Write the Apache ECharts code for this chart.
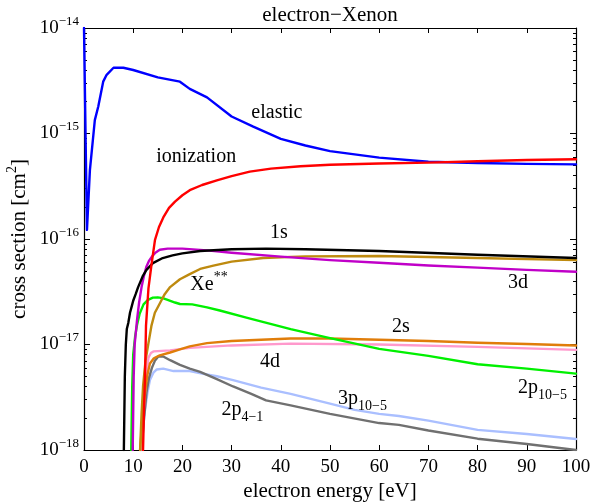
<!DOCTYPE html>
<html>
<head>
<meta charset="utf-8">
<script src="https://cdn.jsdelivr.net/npm/echarts@6/dist/echarts.min.js"></script>
<style>html,body{margin:0;padding:0;background:#fff}#c{width:592px;height:504px}</style>
</head>
<body>
<div id="c"></div>
<script>
// ---- data (x: electron energy [eV], y: cross section [cm^2]) ----
const xTicks = [0, 10, 20, 30, 40, 50, 60, 70, 80, 90, 100];
const yDecades = [1e-18, 1e-17, 1e-16, 1e-15, 1e-14];

const elastic = [[0,1.0e-14],[0.6,1.22e-16],[1.2,4.5e-16],[2.2,1.34e-15],[2.9,1.8e-15],[3.9,3.1e-15],[4.6,3.6e-15],[6,4.2e-15],[8,4.2e-15],[10,4.0e-15],[15,3.4e-15],[19.5,3.1e-15],[21.5,2.65e-15],[25,2.2e-15],[30,1.45e-15],[34.4,1.16e-15],[40,8.9e-16],[45,7.7e-16],[50,6.8e-16],[60,5.9e-16],[70,5.4e-16],[80,5.25e-16],[90,5.15e-16],[100,5.1e-16]];
const ionization = [[12.0,1e-18],[12.2,2.5e-18],[12.4,5e-18],[12.6,1.5e-17],[13.1,3.4e-17],[13.76,5.9e-17],[14.43,9.8e-17],[15.24,1.3e-16],[16.12,1.6e-16],[17.28,1.97e-16],[18.5,2.26e-16],[20,2.6e-16],[21.5,2.9e-16],[24,3.25e-16],[27,3.6e-16],[30,3.95e-16],[33.7,4.35e-16],[38,4.65e-16],[44,4.9e-16],[50,5.05e-16],[60,5.2e-16],[70,5.3e-16],[80,5.45e-16],[90,5.6e-16],[100,5.7e-16]];
const s1 = [[8.1,1e-18],[8.3,5e-18],[8.5,1.0e-17],[8.7,1.4e-17],[9.0,1.6e-17],[9.35,2.0e-17],[9.7,2.3e-17],[10,2.6e-17],[10.5,3.0e-17],[11,3.5e-17],[12,4.5e-17],[12.7,5.1e-17],[14,5.9e-17],[16,6.6e-17],[18,7.0e-17],[20,7.3e-17],[23.6,7.7e-17],[30,8.0e-17],[37,8.1e-17],[45,8.0e-17],[60,7.7e-17],[80,7.1e-17],[100,6.6e-17]];
const d3 = [[9.9,1e-18],[10.1,5e-18],[10.3,1e-17],[10.8,1.75e-17],[11.2,2.5e-17],[11.7,3.5e-17],[12.2,4.5e-17],[12.7,5.5e-17],[13.2,6.2e-17],[13.8,6.8e-17],[14.5,7.4e-17],[15.4,7.9e-17],[17,8.1e-17],[20,8.1e-17],[25,7.8e-17],[30,7.4e-17],[40,6.8e-17],[50,6.3e-17],[60,5.95e-17],[70,5.6e-17],[80,5.35e-17],[90,5.1e-17],[100,4.9e-17]];
const xeStar = [[11.4,1e-18],[11.7,2.2e-18],[12,4e-18],[12.5,7e-18],[13.1,1.03e-17],[13.7,1.5e-17],[14.4,2.0e-17],[15.4,2.45e-17],[16.4,3.0e-17],[17.5,3.5e-17],[19.5,4.15e-17],[21.5,4.65e-17],[23.6,5.2e-17],[26.3,5.6e-17],[30,6.1e-17],[36.4,6.6e-17],[45,6.85e-17],[60,6.9e-17],[80,6.6e-17],[100,6.3e-17]];
const p2_10_5 = [[9.6,1e-18],[9.8,4e-18],[10.0,8e-18],[10.4,1.2e-17],[10.8,1.55e-17],[11.3,1.95e-17],[12.1,2.4e-17],[13,2.65e-17],[14,2.78e-17],[15,2.8e-17],[16,2.75e-17],[17,2.65e-17],[18.5,2.5e-17],[19.5,2.42e-17],[22,2.4e-17],[25,2.25e-17],[27.6,2.1e-17],[33,1.8e-17],[42,1.4e-17],[50,1.15e-17],[60,9.1e-18],[70,7.8e-18],[80,6.5e-18],[90,5.9e-18],[100,5.3e-18]];
const s2 = [[11.4,1e-18],[11.9,2e-18],[12.4,3.5e-18],[12.9,5.2e-18],[13.4,6.6e-18],[14.2,7.4e-18],[15.4,7.9e-18],[17.5,8.4e-18],[19.5,9.0e-18],[21.5,9.6e-18],[25,1.03e-17],[30,1.08e-17],[42,1.14e-17],[50,1.14e-17],[60,1.11e-17],[70,1.08e-17],[80,1.04e-17],[90,1.01e-17],[100,9.8e-18]];
const d4 = [[11.5,1e-18],[12.0,2.0e-18],[12.4,3.5e-18],[12.8,5.8e-18],[13.1,7.5e-18],[13.6,8.3e-18],[14.1,8.6e-18],[17.5,8.8e-18],[21.5,9.3e-18],[30,9.8e-18],[42,1.02e-17],[60,1.0e-17],[80,9.5e-18],[100,8.9e-18]];
const p2_4_1 = [[11.7,1e-18],[12.2,2.0e-18],[12.7,3.5e-18],[13.2,4.8e-18],[13.8,6e-18],[14.4,7.0e-18],[15.1,7.7e-18],[16.1,7.7e-18],[17.5,7.1e-18],[19.5,6.4e-18],[21.5,5.9e-18],[23.6,5.5e-18],[27,4.7e-18],[30.3,4.0e-18],[34,3.4e-18],[37,2.95e-18],[42,2.65e-18],[50,2.2e-18],[60,1.8e-18],[64,1.73e-18],[70,1.53e-18],[80,1.28e-18],[90,1.14e-18],[100,1.0e-18]];
const p3_10_5 = [[11.6,1e-18],[12.0,1.6e-18],[12.4,2.4e-18],[12.9,3.5e-18],[13.4,4.6e-18],[14.1,5.4e-18],[14.8,5.8e-18],[16.1,5.9e-18],[18.2,5.6e-18],[21.5,5.6e-18],[24,5.3e-18],[27,5.0e-18],[30.3,4.6e-18],[36,3.9e-18],[42,3.4e-18],[50,2.75e-18],[55,2.4e-18],[60,2.2e-18],[64,2.1e-18],[70,1.9e-18],[80,1.55e-18],[90,1.42e-18],[100,1.27e-18]];

// minor tick values for log axis (2..9 x 10^k)
const minorTicks = [];
for (let k = -18; k <= -15; k++) for (let m = 2; m <= 9; m++) minorTicks.push(m * Math.pow(10, k));

const FONT = 'Liberation Serif';
const chart = echarts.init(document.getElementById('c'), null, {renderer: 'canvas'});

const seriesDefs = [
  {name: 'elastic', data: elastic, color: '#0000ff'},
  {name: '3p10-5', data: p3_10_5, color: '#aabfff'},
  {name: '2p4-1', data: p2_4_1, color: '#707070'},
  {name: '4d', data: d4, color: '#ff99cc'},
  {name: '2s', data: s2, color: '#e07d0a'},
  {name: '2p10-5', data: p2_10_5, color: '#00f000'},
  {name: 'Xe**', data: xeStar, color: '#be8a0f'},
  {name: '3d', data: d3, color: '#c000c8'},
  {name: '1s', data: s1, color: '#000000'},
  {name: 'ionization', data: ionization, color: '#ff0000'}
];

const supRich = {
  b: {fontFamily: FONT, fontSize: 19, color: '#000', lineHeight: 22},
  s: {fontFamily: FONT, fontSize: 13, color: '#000', lineHeight: 13, padding: [0, 0, 13, 0]}
};
const nameRich = {
  b: {fontFamily: FONT, fontSize: 21, color: '#000', lineHeight: 24},
  s: {fontFamily: FONT, fontSize: 14, color: '#000', lineHeight: 14, padding: [0, 0, 14, 0]}
};

const hideAll = {axisLine: {show: false}, axisLabel: {show: false}, splitLine: {show: false}};

const option = {
  animation: false,
  backgroundColor: '#fff',
  grid: {left: 84, right: 16, top: 28, bottom: 54, containLabel: false, outerBoundsMode: 'none'},
  xAxis: [
    {
      type: 'value', min: 0, max: 100, interval: 10, position: 'bottom',
      name: 'electron energy [eV]', nameLocation: 'middle', nameGap: 31, nameMoveOverlap: false,
      nameTextStyle: {fontFamily: FONT, fontSize: 21, color: '#000'},
      axisLine: {show: true, lineStyle: {color: '#000', width: 1.2}},
      axisTick: {show: true, inside: true, length: 5, lineStyle: {color: '#000'}},
      axisLabel: {fontFamily: FONT, fontSize: 19, color: '#000', margin: 8, customValues: xTicks},
      splitLine: {show: false}
    },
    {
      type: 'value', min: 0, max: 100, interval: 10, position: 'top',
      axisLine: {show: true, lineStyle: {color: '#000', width: 1.2}},
      axisTick: {show: true, inside: true, length: 5, lineStyle: {color: '#000'}},
      axisLabel: {show: false}, splitLine: {show: false}
    }
  ],
  yAxis: [
    {
      type: 'log', logBase: 10, min: 1e-18, max: 1e-14, position: 'left',
      name: '{b|cross section [cm}{s|2}{b|]}', nameLocation: 'middle', nameGap: 53, nameMoveOverlap: false,
      nameTextStyle: {rich: nameRich},
      axisLine: {show: true, lineStyle: {color: '#000', width: 1.2}},
      axisTick: {show: true, inside: true, length: 6, lineStyle: {color: '#000'}, customValues: yDecades},
      axisLabel: {
        margin: 5, customValues: yDecades,
        formatter: function (v) {
          const e = Math.round(Math.log10(v));
          return '{b|10}{s|\u2212' + (-e) + '}';
        },
        rich: supRich
      },
      splitLine: {show: false}
    },
    Object.assign({
      type: 'log', logBase: 10, min: 1e-18, max: 1e-14, position: 'left',
      axisTick: {show: true, inside: true, length: 3, lineStyle: {color: '#000'}, customValues: minorTicks}
    }, hideAll),
    {
      type: 'log', logBase: 10, min: 1e-18, max: 1e-14, position: 'right',
      axisLine: {show: true, lineStyle: {color: '#000', width: 1.2}},
      axisTick: {show: true, inside: true, length: 6, lineStyle: {color: '#000'}, customValues: yDecades},
      axisLabel: {show: false}, splitLine: {show: false}
    },
    Object.assign({
      type: 'log', logBase: 10, min: 1e-18, max: 1e-14, position: 'right',
      axisTick: {show: true, inside: true, length: 3, lineStyle: {color: '#000'}, customValues: minorTicks}
    }, hideAll)
  ],
  series: seriesDefs.map(s => ({
    name: s.name, type: 'line', xAxisIndex: 0, yAxisIndex: 0,
    data: s.data, showSymbol: false, symbol: 'none', smooth: false, clip: true,
    lineStyle: {color: s.color, width: 2.4, join: 'round', cap: 'round'}, itemStyle: {color: s.color}
  }))
};
chart.setOption(option);

// title and curve annotations (annotations anchored in data coordinates)
const labelRich = {
  m: {fontFamily: FONT, fontSize: 20, color: '#000', lineHeight: 22},
  sub: {fontFamily: FONT, fontSize: 14, color: '#000', lineHeight: 14, padding: [15, 0, 0, 0]},
  sup: {fontFamily: FONT, fontSize: 14, color: '#000', lineHeight: 14, padding: [0, 0, 15, 0]}
};
const annotations = [
  {text: '{m|elastic}', at: [39.2, 1.56e-15]},
  {text: '{m|ionization}', at: [22.8, 5.98e-16]},
  {text: '{m|1s}', at: [39.6, 1.14e-16]},
  {text: '{m|Xe}{sup|**}', at: [25.4, 3.7e-17]},
  {text: '{m|3d}', at: [88.2, 3.83e-17]},
  {text: '{m|2s}', at: [64.4, 1.47e-17]},
  {text: '{m|4d}', at: [37.8, 6.8e-18]},
  {text: '{m|2p}{sub|10\u22125}', at: [93.2, 3.9e-18]},
  {text: '{m|3p}{sub|10\u22125}', at: [56.6, 3.05e-18]},
  {text: '{m|2p}{sub|4\u22121}', at: [32.2, 2.4e-18]}
];
const graphics = annotations.map(a => {
  const p = chart.convertToPixel({xAxisIndex: 0, yAxisIndex: 0}, a.at);
  return {
    type: 'text', x: p[0], y: p[1], z: 100,
    style: {text: a.text, rich: labelRich, align: 'center', verticalAlign: 'middle'}
  };
});
graphics.push({
  type: 'text', x: 330, y: 15, z: 100,
  style: {text: 'electron\u2212Xenon', fontFamily: FONT, fontSize: 21, fill: '#000', align: 'center', verticalAlign: 'middle'}
});
chart.setOption({graphic: graphics});
</script>
</body>
</html>
